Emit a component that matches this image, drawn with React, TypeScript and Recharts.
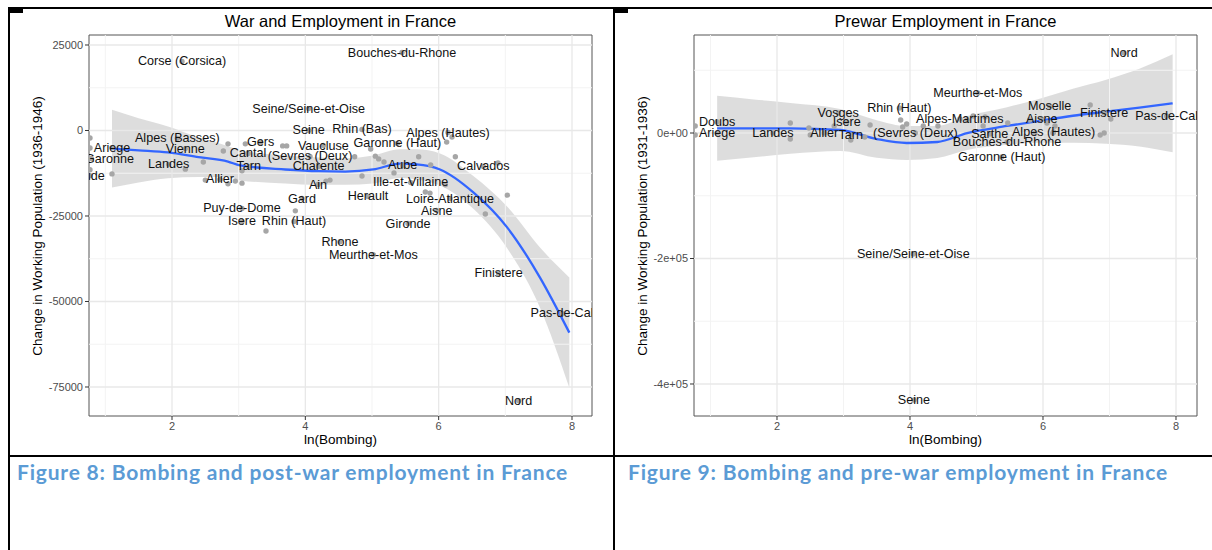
import {
  Area,
  ComposedChart,
  Line,
  ReferenceArea,
  ReferenceLine,
  Scatter,
  XAxis,
  YAxis,
} from 'recharts'

const FONT = '"Liberation Sans", Arial, Helvetica, sans-serif'

// ---- 1936-1946: named departments
const warNames = [
  'Corse (Corsica)', 'Bouches-du-Rhone', 'Seine/Seine-et-Oise', 'Seine', 'Rhin (Bas)',
  'Alpes (Hautes)', 'Vaucluse', 'Garonne (Haut)', 'Gers', 'Alpes (Basses)', 'Ariege',
  'Vienne', 'Lot-et-Garonne', 'Aude', 'Cantal', '(Sevres (Deux)', 'Tarn', 'Landes',
  'Charente', 'Aube', 'Calvados', 'Allier', 'Ain', 'Ille-et-Villaine', 'Herault',
  'Loire-Atlantique', 'Aisne', 'Gard', 'Puy-de-Dome', 'Isere', 'Rhin (Haut)', 'Gironde',
  'Rhone', 'Meurthe-et-Mos', 'Finistere', 'Pas-de-Cal', 'Nord',
]
const warX = [
  2.15, 5.45, 4.05, 4.05, 4.85, 6.14, 4.27, 5.38, 3.33, 2.08, 1.1, 2.2, 0.79, 0.77, 3.14,
  4.07, 3.15, 1.95, 4.2, 5.46, 6.67, 2.72, 4.19, 5.58, 4.94, 6.17, 5.97, 3.95, 3.05, 3.05,
  3.83, 5.54, 4.52, 5.02, 6.9, 7.85, 7.2,
]
const warY = [
  20200, 22800, 6400, 0, 300, -600, -4400, -3800, -3500, -2300, -5000, -5300, -8200,
  -13200, -6700, -7600, -10500, -9900, -10500, -10200, -10500, -14300, -15800, -15200,
  -19300, -19900, -23400, -19900, -22800, -26600, -26600, -27200, -32500, -36300, -41800,
  -53500, -79000,
]
// departments whose names were not drawn
const warDotX = [
  0.77, 0.77, 0.77, 1.1, 2.47, 2.2, 2.77, 2.84, 3.1, 2.5, 2.84, 2.95, 3.05, 3.05, 3.66,
  3.72, 4.37, 4.31, 3.85, 3.41, 4.74, 4.98, 5.05, 5.1, 5.18, 4.85, 5.33, 5.7, 5.88, 6.12,
  6.2, 6.25, 5.8, 5.87, 6.1, 6.7, 7.03, 6.89,
]
const warDotY = [
  -2200, -5100, -11500, -12700, -9200, -11300, -6000, -3900, -3900, -14500, -15600,
  -14800, -15400, -11800, -4500, -4500, -14500, -14800, -23500, -29400, -7700, -5400,
  -7500, -8300, -9200, -13300, -12400, -7700, -10100, -3400, -1900, -7700, -18000,
  -18300, -15900, -24400, -18900, -9500,
]
// loess fit with its 95% band
const warFitX = [1.1, 1.5, 1.94, 2.4, 2.84, 3.02, 3.7, 4.2, 4.6, 5.02, 5.42, 5.67, 6.02, 6.52, 7.03, 7.52, 7.96]
const warFit = [
  -5300, -5800, -6400, -7800, -9100, -10200, -11400, -11900, -12000, -11400, -9700,
  -9900, -11400, -18100, -28400, -43000, -59100,
]
const warLo = [
  -16700, -15200, -14000, -13600, -13600, -14600, -15500, -15900, -15900, -15500,
  -13900, -14300, -16100, -22900, -34500, -51800, -75200,
]
const warHi = [
  6100, 3600, 1200, -2000, -4600, -5800, -7300, -7900, -8100, -7300, -5500, -5500,
  -6700, -13300, -22300, -34200, -43000,
]

// ---- 1931-1936: named departments
const preNames = [
  'Doubs', 'Ariege', 'Landes', 'Allier', 'Tarn', 'Vosges', 'Isere', 'Rhin (Haut)',
  '(Sevres (Deux)', 'Meurthe-et-Mos', 'Alpes-Martimes', 'Sarthe', 'Alpes (Hautes)',
  'Bouches-du-Rhone', 'Garonne (Haut)', 'Moselle', 'Aisne', 'Finistere', 'Pas-de-Cal',
  'Nord', 'Seine/Seine-et-Oise', 'Seine',
]
const preX = [
  1.1, 1.1, 1.94, 2.71, 3.11, 2.92, 3.05, 3.84, 4.08, 5.02, 4.75, 5.2, 6.16, 5.46, 5.38,
  6.1, 5.98, 6.92, 7.86, 7.22, 4.05, 4.06,
]
const preY = [
  17500, 0, 0, 0, -3200, 32000, 17500, 39800, 0, 63700, 22300, -1600, 1600, -14300,
  -38200, 43000, 22300, 31900, 27100, 127500, -192800, -425500,
]
const preDotX = [
  0.77, 0.77, 2.2, 2.2, 2.48, 2.5, 2.86, 3.11, 3.32, 3.4, 3.86, 3.95, 3.89, 4.2, 4.42,
  4.86, 4.95, 5.1, 5.13, 5.47, 5.8, 5.88, 6.06, 6.18, 6.15, 6.71, 7.02, 6.86, 6.92,
]
const preDotY = [
  11200, -3200, 15900, -9600, 8000, -3200, 11200, -11200, -6400, 12700, 20700, 14300,
  9600, 11200, 11200, 20700, 27100, 11200, 25500, 15900, 20700, 0, 15900, 11200, 0,
  44600, 22300, -3200, 0,
]
const preFitX = [1.1, 1.65, 2.2, 2.95, 3.5, 3.95, 4.41, 4.86, 5.46, 5.95, 6.45, 6.95, 7.45, 7.95]
const preFit = [7400, 7400, 7400, 4800, -9600, -15900, -14300, 0, 11200, 19500, 27500, 34000, 40500, 47300]
const preLo = [
  -44400, -38800, -33200, -28700, -39600, -42900, -39800, -27000, -18800, -15500,
  -15500, -17000, -21500, -30800,
]
const preHi = [59200, 53600, 48000, 38300, 20400, 11100, 11200, 27000, 41200, 54500, 70500, 85000, 102500, 125400]

// ---- axes
const xTicks = [2, 4, 6, 8]
const xMinor = [1, 3, 5, 7]
const warYTicks = [-75000, -50000, -25000, 0, 25000]
const warYMinor = [-62500, -37500, -12500, 12500]
const preYTicks = [-400000, -200000, 0]
const preYMinor = [-300000, -100000, 100000]

type Pt = { name: string; x: number; y: number }
type Fit = { x: number; fit: number; band: [number, number] }

function points(names: string[], xs: number[], ys: number[], dx: number[], dy: number[]) {
  const labels: Pt[] = names.map((name, i) => ({ name, x: xs[i], y: ys[i] }))
  const dots: Pt[] = [...labels, ...dx.map((x, i) => ({ name: '', x, y: dy[i] }))]
  return { labels, dots }
}

function smooth(xs: number[], fit: number[], lo: number[], hi: number[]): Fit[] {
  return xs.map((x, i) => ({ x, fit: fit[i], band: [lo[i], hi[i]] }))
}

// R-style scientific tick labels: -2e+05
const sci = (v: number) => {
  const [m, e] = v.toExponential().split('e')
  return `${m}e${e[0]}${e.slice(1).padStart(2, '0')}`
}

const W = 600
const H = 455
const MARGIN = { top: 35, right: 8, bottom: 14, left: 39 }
const Y_W = 50
const X_H = 25
const PLOT_L = MARGIN.left + Y_W
const PLOT_R = W - MARGIN.right
const PLOT_T = MARGIN.top
const PLOT_B = H - MARGIN.bottom - X_H

const Dot = (p: any) => <circle cx={p.cx} cy={p.cy} r={2.7} fill="#a6a6a6" />
const Name = (p: any) => (
  <text
    x={p.cx}
    y={p.cy}
    textAnchor="middle"
    dominantBaseline="central"
    fontSize={12.6}
    fontFamily={FONT}
    fill="#111"
  >
    {p.payload.name}
  </text>
)

interface PanelProps {
  left: number
  title: string
  yTitle: string
  labels: Pt[]
  dots: Pt[]
  fit: Fit[]
  xDomain: [number, number]
  yDomain: [number, number]
  yTicks: number[]
  yMinor: number[]
  yFormat: (v: number) => string
}

function Panel({ left, title, yTitle, labels, dots, fit, xDomain, yDomain, yTicks, yMinor, yFormat }: PanelProps) {
  const tick = { fill: '#4d4d4d', fontSize: 11, fontFamily: FONT }
  return (
    <div style={{ position: 'absolute', left, top: 0, width: W, height: H }}>
      <div
        style={{
          position: 'absolute',
          left: PLOT_L,
          width: PLOT_R - PLOT_L,
          top: 11,
          lineHeight: '20px',
          textAlign: 'center',
          fontFamily: FONT,
          fontSize: 16.5,
        }}
      >
        {title}
      </div>
      <ComposedChart width={W} height={H} margin={MARGIN}>
        <XAxis
          type="number"
          dataKey="x"
          domain={xDomain}
          ticks={xTicks}
          allowDataOverflow
          height={X_H}
          axisLine={false}
          tickSize={4}
          tickLine={{ stroke: '#333' }}
          tick={tick}
        />
        <YAxis
          type="number"
          domain={yDomain}
          ticks={yTicks}
          allowDataOverflow
          width={Y_W}
          axisLine={false}
          tickSize={4}
          tickLine={{ stroke: '#333' }}
          tick={tick}
          tickFormatter={yFormat}
        />
        {xMinor.map((v) => (
          <ReferenceLine key={`xm${v}`} x={v} stroke="#f3f3f3" strokeWidth={1} />
        ))}
        {yMinor.map((v) => (
          <ReferenceLine key={`ym${v}`} y={v} stroke="#f3f3f3" strokeWidth={1} />
        ))}
        {xTicks.map((v) => (
          <ReferenceLine key={`x${v}`} x={v} stroke="#e8e8e8" strokeWidth={1.3} />
        ))}
        {yTicks.map((v) => (
          <ReferenceLine key={`y${v}`} y={v} stroke="#e8e8e8" strokeWidth={1.3} />
        ))}
        <Area
          data={fit}
          dataKey="band"
          type="monotone"
          fill="#999999"
          fillOpacity={0.33}
          stroke="none"
          isAnimationActive={false}
        />
        <Scatter data={dots} dataKey="y" shape={Dot} isAnimationActive={false} />
        <Scatter data={labels} dataKey="y" shape={Name} isAnimationActive={false} />
        <Line
          data={fit}
          dataKey="fit"
          type="monotone"
          stroke="#3366FF"
          strokeWidth={2.3}
          dot={false}
          isAnimationActive={false}
        />
        <ReferenceArea
          x1={xDomain[0]}
          x2={xDomain[1]}
          y1={yDomain[0]}
          y2={yDomain[1]}
          fill="none"
          stroke="#555"
          strokeWidth={1}
        />
      </ComposedChart>
      <div
        style={{
          position: 'absolute',
          left: PLOT_L,
          width: PLOT_R - PLOT_L,
          top: 430,
          lineHeight: '20px',
          textAlign: 'center',
          fontFamily: FONT,
          fontSize: 13.5,
        }}
      >
        ln(Bombing)
      </div>
      <div
        style={{
          position: 'absolute',
          left: 38 - 200,
          width: 400,
          top: (PLOT_T + PLOT_B) / 2 - 10,
          lineHeight: '20px',
          textAlign: 'center',
          fontFamily: FONT,
          fontSize: 13.5,
          transform: 'rotate(-90deg)',
        }}
      >
        {yTitle}
      </div>
    </div>
  )
}

const war = points(warNames, warX, warY, warDotX, warDotY)
const pre = points(preNames, preX, preY, preDotX, preDotY)
const warSmooth = smooth(warFitX, warFit, warLo, warHi)
const preSmooth = smooth(preFitX, preFit, preLo, preHi)

const rule = (left: number, top: number, width: number, height: number) => (
  <div style={{ position: 'absolute', left, top, width, height, background: '#000' }} />
)

const caption = {
  position: 'absolute' as const,
  top: 460,
  lineHeight: '24px',
  fontFamily: 'Lato, "Open Sans", sans-serif',
  fontWeight: 700,
  fontSize: 21,
  letterSpacing: 0.8,
  color: '#5B9BD5',
  whiteSpace: 'nowrap' as const,
}

export default function App() {
  return (
    <div style={{ position: 'absolute', left: 0, top: 0, width: 1212, height: 550, background: '#fff', overflow: 'hidden' }}>
      <Panel
        left={0}
        title="War and Employment in France"
        yTitle="Change in Working Population (1936-1946)"
        labels={war.labels}
        dots={war.dots}
        fit={warSmooth}
        xDomain={[0.755, 8.3]}
        yDomain={[-83480, 27920]}
        yTicks={warYTicks}
        yMinor={warYMinor}
        yFormat={(v) => String(v)}
      />
      <Panel
        left={605}
        title="Prewar Employment in France"
        yTitle="Change in Working Population (1931-1936)"
        labels={pre.labels}
        dots={pre.dots}
        fit={preSmooth}
        xDomain={[0.752, 8.316]}
        yDomain={[-451000, 156200]}
        yTicks={preYTicks}
        yMinor={preYMinor}
        yFormat={sci}
      />
      {rule(8, 7, 1204, 2)}
      {rule(8, 7, 15, 6)}
      {rule(615, 7, 13, 6)}
      {rule(8, 7, 2, 543)}
      {rule(613, 7, 2, 543)}
      {rule(8, 455, 1204, 2)}
      <div style={{ ...caption, left: 17 }}>Figure 8: Bombing and post-war employment in France</div>
      <div style={{ ...caption, left: 628 }}>Figure 9: Bombing and pre-war employment in France</div>
    </div>
  )
}
